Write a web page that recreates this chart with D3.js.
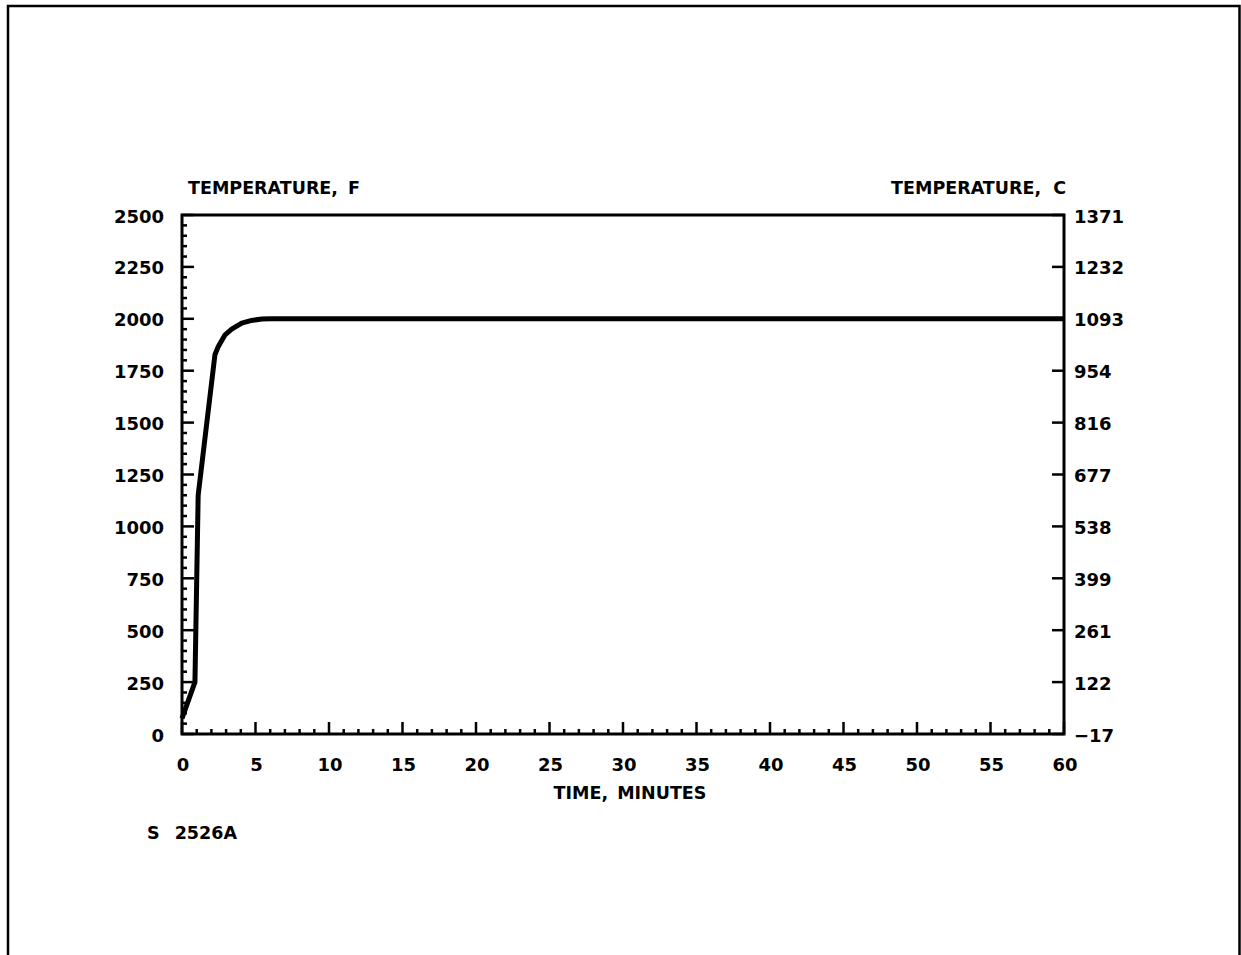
<!DOCTYPE html>
<html lang="en">
<head>
    <meta charset="UTF-8">
    <title>Temperature vs Time</title>
    <style>
        body { margin: 0; background: #fff; }
        svg { display: block; }
        text { font-family: 'DejaVu Sans', sans-serif; font-weight: bold; fill: #000; }
    </style>
</head>
<body>
    <div id="chart"></div>
    <script src="https://d3js.org/d3.v7.min.js"></script>
    <script>
        // curve (minutes, deg F)
        const timeMin = [0, 0.88, 1.1, 2.24, 2.47, 2.93, 3.38, 4.06, 4.74, 5.42, 6, 60];
        const tempF = [75, 250, 1150, 1827, 1867, 1923, 1950, 1979, 1992, 1999, 2000, 2000];

        const xTicks = [0, 5, 10, 15, 20, 25, 30, 35, 40, 45, 50, 55, 60];
        const fTicks = [0, 250, 500, 750, 1000, 1250, 1500, 1750, 2000, 2250, 2500];
        const cLabels = ['\u221217', '122', '261', '399', '538', '677', '816', '954', '1093', '1232', '1371'];

        const W = 1241, H = 955;
        const plotL = 182, plotR = 1064, plotT = 215, plotB = 734;

        const svg = d3.select('#chart').append('svg')
            .attr('width', W)
            .attr('height', H);

        // outer frame (bottom edge runs off the page)
        svg.append('path')
            .attr('d', 'M8,' + (H + 10) + 'V6H1239.5V' + (H + 10))
            .attr('fill', 'none')
            .attr('stroke', '#000')
            .attr('stroke-width', 2.5);

        const x = d3.scaleLinear().domain([0, 60]).range([plotL, plotR]);
        const y = d3.scaleLinear().domain([0, 2500]).range([plotB, plotT]);

        // bottom axis: majors every 5, minors every 1, pointing up
        const minorX = d3.range(0, 61).filter(d => d % 5 !== 0);
        svg.append('g').selectAll('line').data(minorX).enter().append('line')
            .attr('x1', d => x(d)).attr('x2', d => x(d))
            .attr('y1', plotB).attr('y2', plotB - 5)
            .attr('stroke', '#000').attr('stroke-width', 2.5);
        svg.append('g').selectAll('line').data(xTicks).enter().append('line')
            .attr('x1', d => x(d)).attr('x2', d => x(d))
            .attr('y1', plotB).attr('y2', plotB - 12)
            .attr('stroke', '#000').attr('stroke-width', 2.5);
        svg.append('g').selectAll('text').data(xTicks).enter().append('text')
            .attr('x', d => x(d) + 1)
            .attr('y', 764)
            .attr('text-anchor', 'middle')
            .attr('dominant-baseline', 'central')
            .attr('font-size', 18)
            .text(d => d);

        // left axis: majors every 250, minors every 50, pointing inward
        const minorF = d3.range(0, 2501, 50).filter(d => d % 250 !== 0);
        svg.append('g').selectAll('line').data(minorF).enter().append('line')
            .attr('x1', plotL).attr('x2', plotL + 5)
            .attr('y1', d => y(d)).attr('y2', d => y(d))
            .attr('stroke', '#000').attr('stroke-width', 2.5);
        svg.append('g').selectAll('line').data(fTicks).enter().append('line')
            .attr('x1', plotL).attr('x2', plotL + 12)
            .attr('y1', d => y(d)).attr('y2', d => y(d))
            .attr('stroke', '#000').attr('stroke-width', 2.5);
        svg.append('g').selectAll('text').data(fTicks).enter().append('text')
            .attr('x', 164)
            .attr('y', d => y(d) + 1)
            .attr('text-anchor', 'end')
            .attr('dominant-baseline', 'central')
            .attr('font-size', 18)
            .text(d => d);

        // right axis in Celsius, same tick positions
        svg.append('g').selectAll('line').data(fTicks).enter().append('line')
            .attr('x1', plotR).attr('x2', plotR - 12)
            .attr('y1', d => y(d)).attr('y2', d => y(d))
            .attr('stroke', '#000').attr('stroke-width', 2.5);
        svg.append('g').selectAll('text').data(fTicks).enter().append('text')
            .attr('x', 1074)
            .attr('y', d => y(d) + 1)
            .attr('dominant-baseline', 'central')
            .attr('font-size', 18)
            .text((d, i) => cLabels[i]);

        // plot frame
        svg.append('rect')
            .attr('x', plotL).attr('y', plotT)
            .attr('width', plotR - plotL).attr('height', plotB - plotT)
            .attr('fill', 'none')
            .attr('stroke', '#000')
            .attr('stroke-width', 3);

        // temperature curve
        const line = d3.line()
            .x((d, i) => x(timeMin[i]))
            .y(d => y(d));
        svg.append('path')
            .attr('d', line(tempF))
            .attr('fill', 'none')
            .attr('stroke', '#000')
            .attr('stroke-width', 5)
            .attr('stroke-linejoin', 'round');

        // titles
        svg.append('text')
            .attr('x', 188).attr('y', 188)
            .attr('dominant-baseline', 'central')
            .attr('font-size', 17.5)
            .attr('word-spacing', 4)
            .text('TEMPERATURE, F');
        svg.append('text')
            .attr('x', 1066).attr('y', 188)
            .attr('text-anchor', 'end')
            .attr('dominant-baseline', 'central')
            .attr('font-size', 17.5)
            .attr('word-spacing', 6)
            .text('TEMPERATURE, C');
        svg.append('text')
            .attr('x', 630).attr('y', 793)
            .attr('text-anchor', 'middle')
            .attr('dominant-baseline', 'central')
            .attr('font-size', 17.5)
            .attr('word-spacing', 3)
            .text('TIME, MINUTES');
        svg.append('text')
            .attr('x', 147).attr('y', 833)
            .attr('dominant-baseline', 'central')
            .attr('font-size', 17.5)
            .attr('word-spacing', 9)
            .text('S 2526A');
    </script>
</body>
</html>
